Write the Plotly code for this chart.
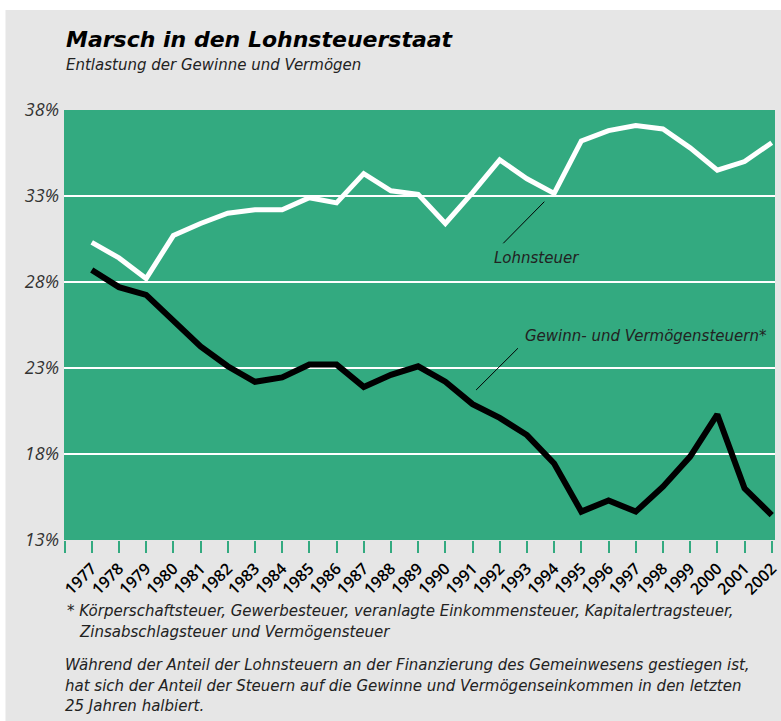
"""
plot.py — Marsch in den Lohnsteuerstaat
Anteil von Lohnsteuer bzw. Gewinn- und Vermögensteuern, 1977-2002.
"""

import plotly.graph_objects as go

# ---------------------------------------------------------------------------
# Daten (Anteil in %)
# ---------------------------------------------------------------------------
jahre = list(range(1977, 2003))

lohnsteuer = [
    30.3, 29.4, 28.2, 30.7, 31.4, 32.0, 32.2, 32.2, 32.9, 32.6,
    34.3, 33.3, 33.1, 31.4, 33.2, 35.1, 34.0, 33.15, 36.2, 36.8,
    37.1, 36.9, 35.8, 34.5, 35.0, 36.1,
]

gewinn_vermoegen = [
    28.7, 27.7, 27.25, 25.8, 24.25, 23.1, 22.2, 22.45, 23.2, 23.2,
    21.9, 22.6, 23.1, 22.2, 20.9, 20.1, 19.1, 17.45, 14.65, 15.3,
    14.65, 16.1, 17.85, 20.3, 16.0, 14.45,
]

y_ticks = [13, 18, 23, 28, 33, 38]
y_labels = ["13%", "18%", "23%", "28%", "33%", "38%"]

# Tickstriche auch bei 1976 (ohne Beschriftung)
x_ticks = [1976] + jahre
x_labels = [""] + [str(j) for j in jahre]

titel = "Marsch in den Lohnsteuerstaat"
untertitel = "Entlastung der Gewinne und Vermögen"
fussnote = [
    "* Körperschaftsteuer, Gewerbesteuer, veranlagte Einkommensteuer, Kapitalertragsteuer,",
    "Zinsabschlagsteuer und Vermögensteuer",
]
absatz = [
    "Während der Anteil der Lohnsteuern an der Finanzierung des Gemeinwesens gestiegen ist,",
    "hat sich der Anteil der Steuern auf die Gewinne und Vermögenseinkommen in den letzten",
    "25 Jahren halbiert.",
]

# ---------------------------------------------------------------------------
# Farben / Schriften
# ---------------------------------------------------------------------------
GRUEN = "#33aa80"
GRAU = "#e6e6e6"
TEXT = "#222222"
FONT = "Open Sans, Liberation Sans, sans-serif"
FONT_WEIT = "DejaVu Sans, sans-serif"

fig = go.Figure()

fig.add_trace(go.Scatter(
    x=jahre, y=lohnsteuer, mode="lines",
    line=dict(color="white", width=5),
    name="Lohnsteuer", showlegend=False,
))
fig.add_trace(go.Scatter(
    x=jahre, y=gewinn_vermoegen, mode="lines",
    line=dict(color="black", width=6),
    name="Gewinn- und Vermögensteuern", showlegend=False,
))

# --- Beschriftung der Linien mit Zeigerstrich ---
fig.add_shape(type="line", x0=1992.13, y0=30.25, x1=1993.64, y1=32.67,
              line=dict(color="black", width=1))
fig.add_annotation(x=1993.35, y=29.4, text="<i>Lohnsteuer</i>", showarrow=False,
                   font=dict(family=FONT_WEIT, size=15, color=TEXT))

fig.add_shape(type="line", x0=1991.13, y0=21.72, x1=1992.67, y1=24.15,
              line=dict(color="black", width=1))
fig.add_annotation(x=2001.9, y=24.85, text="<i>Gewinn- und Vermögensteuern*</i>",
                   showarrow=False, xanchor="right",
                   font=dict(family=FONT_WEIT, size=15, color=TEXT))

# --- Titel ---
fig.add_annotation(xref="paper", yref="paper", x=0, y=1.163, xanchor="left",
                   yanchor="middle", showarrow=False,
                   text=f"<b><i>{titel}</i></b>",
                   font=dict(family=FONT_WEIT, size=22, color="black"))
fig.add_annotation(xref="paper", yref="paper", x=0, y=1.105, xanchor="left",
                   yanchor="middle", showarrow=False,
                   text=f"<i>{untertitel}</i>",
                   font=dict(family=FONT_WEIT, size=15, color=TEXT))

# --- Fußnote + Erläuterung ---
for txt, xp, yp in zip(fussnote, [0.0014, 0.018], [-0.165, -0.214]):
    fig.add_annotation(xref="paper", yref="paper", x=xp, y=yp, xanchor="left",
                       yanchor="middle", showarrow=False, text=f"<i>{txt}</i>",
                       font=dict(family=FONT_WEIT, size=15, color=TEXT))
for txt, yp in zip(absatz, [-0.291, -0.340, -0.386]):
    fig.add_annotation(xref="paper", yref="paper", x=-0.0014, y=yp, xanchor="left",
                       yanchor="middle", showarrow=False, text=f"<i>{txt}</i>",
                       font=dict(family=FONT_WEIT, size=15, color=TEXT))

# --- weißer Rand oben und links ---
fig.add_shape(type="rect", xref="paper", yref="paper",
              x0=-0.2, x1=1.2, y0=1.2326, y1=1.4,
              fillcolor="white", line_width=0, layer="below")
fig.add_shape(type="rect", xref="paper", yref="paper",
              x0=-0.2, x1=-0.0823, y0=-0.6, y1=1.4,
              fillcolor="white", line_width=0, layer="below")

fig.update_xaxes(
    range=[1975.98, 2002.12],
    tickvals=x_ticks, ticktext=x_labels,
    tickangle=-45,
    ticks="outside", ticklen=12, tickwidth=2, tickcolor=GRUEN,
    tickfont=dict(family=FONT, size=16, color="black", weight=600),
    ticklabeloverflow="allow",
    showgrid=False, zeroline=False, showline=False,
)
fig.update_yaxes(
    range=[13, 38],
    tickvals=y_ticks, ticktext=y_labels,
    tickfont=dict(family=FONT, size=18, color="#333333", style="italic"),
    showgrid=True, gridcolor="white", gridwidth=1.5,
    zeroline=False, showline=False, ticks="",
    ticklabelstandoff=4,
)

fig.update_layout(
    width=781, height=721,
    margin=dict(l=64, r=0, t=110, b=181),
    paper_bgcolor=GRAU,
    plot_bgcolor=GRUEN,
    font=dict(family=FONT),
    showlegend=False,
)

# kein Seitenrand im Browser, sonst Scrollbalken
fig.write_html(
    "out.html",
    config={"displayModeBar": False},
    post_script="document.body.style.margin='0';document.body.style.overflow='hidden';",
)
